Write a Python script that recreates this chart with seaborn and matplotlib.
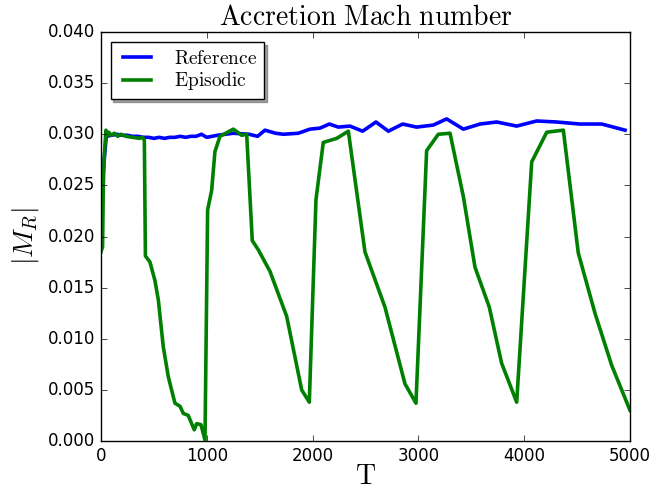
import matplotlib
matplotlib.use("Agg")
import matplotlib.pyplot as plt
import seaborn as sns

# Reference run (blue)
t_ref = [0, 20, 50, 100, 150, 200, 250, 300, 350, 400, 450, 500, 550, 600, 650,
         700, 750, 800, 850, 900, 950, 1000, 1050, 1100, 1250, 1400, 1480, 1550,
         1650, 1723, 1865, 1975, 2070, 2158, 2243, 2353, 2473, 2599, 2716, 2851,
         2983, 3141, 3267, 3425, 3582, 3740, 3929, 4118, 4307, 4527, 4733, 4953]
m_ref = [0.0200, 0.0262, 0.0298, 0.0299, 0.0300, 0.0299, 0.0299, 0.0298, 0.0298,
         0.0297, 0.0297, 0.0296, 0.0297, 0.0296, 0.0297, 0.0297, 0.0298, 0.0297,
         0.0298, 0.0298, 0.0300, 0.0297, 0.0298, 0.0299, 0.0301, 0.0300, 0.0298,
         0.0304, 0.0301, 0.0300, 0.0301, 0.0305, 0.0306, 0.0310, 0.0307, 0.0308,
         0.0303, 0.0312, 0.0303, 0.0310, 0.0307, 0.0309, 0.0315, 0.0305, 0.0310,
         0.0312, 0.0308, 0.0313, 0.0312, 0.0310, 0.0310, 0.0304]

# Episodic run (green)
t_epi = [0, 15, 22, 31, 47, 63, 73, 95, 126, 158, 189, 236, 299, 362, 394, 410,
         420, 463, 510, 542, 589, 636, 699, 747, 778, 825, 857, 882, 904, 945,
         983, 1008, 1046, 1077, 1125, 1251, 1330, 1377, 1430, 1487, 1597, 1755,
         1897, 1969, 2032, 2101, 2228, 2338, 2495, 2684, 2873, 2977, 3078, 3188,
         3299, 3425, 3535, 3670, 3787, 3929, 4071, 4213, 4370, 4511, 4669, 4827,
         5000]
m_epi = [0.0185, 0.0190, 0.0249, 0.0278, 0.0304, 0.0299, 0.0302, 0.0299, 0.0301,
         0.0298, 0.0300, 0.0298, 0.0297, 0.0296, 0.0297, 0.0294, 0.0181, 0.0175,
         0.0157, 0.0138, 0.0092, 0.0063, 0.0037, 0.0034, 0.0027, 0.0025, 0.0017,
         0.0011, 0.0017, 0.0016, 0.0001, 0.0226, 0.0245, 0.0283, 0.0298, 0.0305,
         0.0299, 0.0300, 0.0196, 0.0187, 0.0166, 0.0122, 0.0050, 0.0038, 0.0236,
         0.0292, 0.0296, 0.0303, 0.0185, 0.0131, 0.0056, 0.0037, 0.0284, 0.0300,
         0.0301, 0.0239, 0.0170, 0.0131, 0.0076, 0.0038, 0.0273, 0.0302, 0.0304,
         0.0184, 0.0125, 0.0074, 0.0030]

plt.style.use("classic")
plt.rcParams["mathtext.fontset"] = "cm"
plt.rcParams["font.family"] = ["DejaVu Sans"]

fig = plt.figure(figsize=(6.7, 4.91), dpi=100, facecolor="white")
ax = fig.add_axes([0.1507, 0.1018, 0.7896, 0.833])
ax.set_facecolor("white")

sns.lineplot(x=t_ref, y=m_ref, ax=ax, color="b", linewidth=2.6,
             label=r"$\mathrm{Reference}$", errorbar=None)
sns.lineplot(x=t_epi, y=m_epi, ax=ax, color="g", linewidth=2.6,
             label=r"$\mathrm{Episodic}$", errorbar=None)

ax.set_xlim(0, 5000)
ax.set_ylim(0, 0.040)
ax.set_xticks([0, 1000, 2000, 3000, 4000, 5000])
ax.set_yticks([0.000, 0.005, 0.010, 0.015, 0.020, 0.025, 0.030, 0.035, 0.040])
ax.set_yticklabels(["%.3f" % v for v in ax.get_yticks()])
ax.tick_params(labelsize=12)

ax.set_title(r"$\mathrm{Accretion\ Mach\ number}$", fontsize=20)
ax.set_xlabel(r"$\mathrm{T}$", fontsize=20, labelpad=-2)
ax.set_ylabel(r"$|M_R|$", fontsize=20)

leg = ax.legend(loc="upper left", shadow=True, fancybox=False, fontsize=14,
                frameon=True, handlelength=2.0, labelspacing=0.15,
                borderpad=0.35, handletextpad=0.9)
leg.get_frame().set_edgecolor("black")

fig.savefig("out.png", dpi=100, facecolor="white")
